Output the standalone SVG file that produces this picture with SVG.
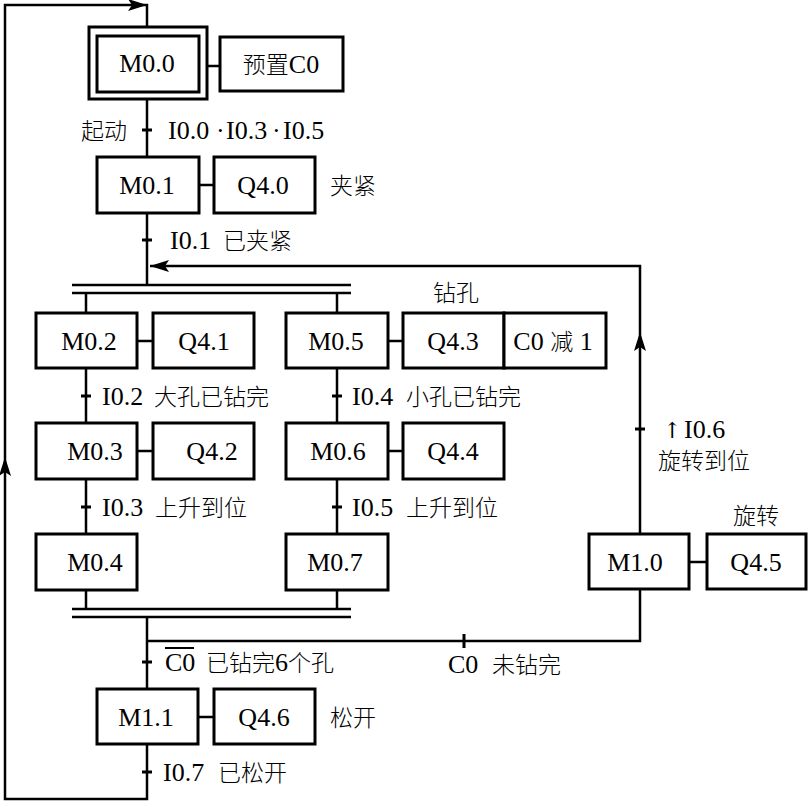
<svg xmlns="http://www.w3.org/2000/svg" width="808" height="802" viewBox="0 0 808 802">
<style>
.box{fill:#fff;stroke:#000;stroke-width:3}
.ln{fill:none;stroke:#000;stroke-width:2.5}
.tk{stroke:#000;stroke-width:3}
.t{font-family:"Liberation Serif","Noto Sans CJK SC",serif;font-size:26px;fill:#000}
.c{font-family:"Noto Sans CJK SC","Liberation Serif",sans-serif;font-size:23px;font-weight:300}
.s{font-family:"DejaVu Serif","DejaVu Sans",serif;font-size:22px;fill:#000}
.m{text-anchor:middle}
</style>
<defs>
<path id="ah" d="M0,0 L-19,-6 L-15,0 L-19,6 Z" fill="#000"/>
</defs>
<rect width="808" height="802" fill="#fff"/>
<g id="connectors">
<path class="ln" d="M147,744 L147,799 L5,799 L5,5 L147,5 L147,27"/>
<path class="ln" d="M147,99 L147,157 M147,213 L147,285"/>
<path class="ln" d="M640,534 L640,266 L150,266"/>
<path class="ln" d="M72,285 L351,285 M72,293 L351,293"/>
<path class="ln" d="M72,609 L351,609 M72,617 L351,617"/>
<path class="ln" d="M86,293 L86,313 M86,368 L86,423 M86,479 L86,534 M86,590 L86,609"/>
<path class="ln" d="M337,293 L337,313 M337,368 L337,423 M337,479 L337,534 M337,590 L337,609"/>
<path class="ln" d="M147,617 L147,689 M147,641 L640,641 L640,589"/>
<path class="ln" d="M207,66 L220,66 M199,185 L214,185 M137,341 L153,341 M388,341 L403,341 M137,451 L153,451 M388,451 L403,451 M689,562 L707,562 M198,717 L214,717"/>
<path class="tk" d="M142,130 L152,130 M142,240 L152,240 M81,396 L91,396 M332,396 L342,396 M81,507 L91,507 M332,507 L342,507 M635,429 L645,429 M142,662 L152,662 M142,772 L152,772 M464,634 L464,648"/>
<use href="#ah" transform="translate(147,5)"/>
<use href="#ah" transform="translate(5,457) rotate(-90)"/>
<use href="#ah" transform="translate(640,332) rotate(-90)"/>
<use href="#ah" transform="translate(150,266) rotate(180)"/>
</g>
<g id="M0.0">
<rect class="box" x="89" y="27" width="118" height="72"/>
<rect class="box" x="97" y="36" width="102" height="56"/>
<text class="t m" x="147" y="72">M0.0</text>
</g>
<g id="presetC0">
<rect class="box" x="220" y="37" width="123" height="54"/>
<text class="t m" x="281" y="73"><tspan class="c">预置</tspan>C0</text>
</g>
<g id="M0.1">
<rect class="box" x="97" y="157" width="102" height="56"/>
<text class="t m" x="147" y="194">M0.1</text>
</g>
<g id="Q4.0">
<rect class="box" x="214" y="157" width="101" height="56"/>
<text class="t m" x="263" y="194">Q4.0</text>
</g>
<g id="M0.2">
<rect class="box" x="36" y="313" width="101" height="55"/>
<text class="t m" x="89" y="350">M0.2</text>
</g>
<g id="Q4.1">
<rect class="box" x="153" y="313" width="101" height="55"/>
<text class="t m" x="204" y="350">Q4.1</text>
</g>
<g id="M0.5">
<rect class="box" x="286" y="313" width="102" height="55"/>
<text class="t m" x="336" y="350">M0.5</text>
</g>
<g id="Q4.3">
<rect class="box" x="403" y="313" width="101" height="55"/>
<text class="t m" x="453" y="350">Q4.3</text>
</g>
<g id="C0dec">
<rect class="box" x="504" y="313" width="102" height="55"/>
<text class="t m" x="553" y="350">C0 <tspan class="c">减</tspan> 1</text>
</g>
<g id="M0.3">
<rect class="box" x="36" y="423" width="101" height="56"/>
<text class="t m" x="95" y="460">M0.3</text>
</g>
<g id="Q4.2">
<rect class="box" x="153" y="423" width="101" height="56"/>
<text class="t m" x="212" y="460">Q4.2</text>
</g>
<g id="M0.6">
<rect class="box" x="286" y="423" width="102" height="56"/>
<text class="t m" x="338" y="460">M0.6</text>
</g>
<g id="Q4.4">
<rect class="box" x="403" y="423" width="101" height="56"/>
<text class="t m" x="453" y="460">Q4.4</text>
</g>
<g id="M0.4">
<rect class="box" x="36" y="534" width="101" height="56"/>
<text class="t m" x="95" y="571">M0.4</text>
</g>
<g id="M0.7">
<rect class="box" x="286" y="534" width="102" height="56"/>
<text class="t m" x="335" y="571">M0.7</text>
</g>
<g id="M1.0">
<rect class="box" x="589" y="534" width="100" height="55"/>
<text class="t m" x="635" y="571">M1.0</text>
</g>
<g id="Q4.5">
<rect class="box" x="707" y="534" width="99" height="55"/>
<text class="t m" x="756" y="571">Q4.5</text>
</g>
<g id="M1.1">
<rect class="box" x="97" y="689" width="101" height="55"/>
<text class="t m" x="146" y="726">M1.1</text>
</g>
<g id="Q4.6">
<rect class="box" x="214" y="689" width="101" height="55"/>
<text class="t m" x="264" y="726">Q4.6</text>
</g>
<g id="labels">
<text class="t c" x="81" y="139">起动</text>
<text class="t" y="139"><tspan x="168">I0.0</tspan><tspan x="216">·</tspan><tspan x="226">I0.3</tspan><tspan x="272">·</tspan><tspan x="283">I0.5</tspan></text>
<text class="t c" x="330" y="194">夹紧</text>
<text class="t" y="249"><tspan x="170">I0.1</tspan><tspan class="c" x="223">已夹紧</tspan></text>
<text class="t c" x="433" y="301">钻孔</text>
<text class="t" y="405"><tspan x="102">I0.2</tspan><tspan class="c" x="154">大孔已钻完</tspan></text>
<text class="t" y="405"><tspan x="352">I0.4</tspan><tspan class="c" x="406">小孔已钻完</tspan></text>
<text class="t" y="516"><tspan x="102">I0.3</tspan><tspan class="c" x="155">上升到位</tspan></text>
<text class="t" y="516"><tspan x="352">I0.5</tspan><tspan class="c" x="406">上升到位</tspan></text>
<text class="t" y="438"><tspan class="s" x="663">↑</tspan><tspan x="684">I0.6</tspan></text>
<text class="t c" x="658" y="469">旋转到位</text>
<text class="t c" x="733" y="524">旋转</text>
<text class="t" y="671"><tspan x="165">C0</tspan><tspan class="c" x="206">已钻完</tspan><tspan>6</tspan><tspan class="c">个孔</tspan></text>
<line x1="165" y1="648" x2="194" y2="648" stroke="#000" stroke-width="2"/>
<text class="t" y="673"><tspan x="448">C0</tspan><tspan class="c" x="492">未钻完</tspan></text>
<text class="t c" x="330" y="726">松开</text>
<text class="t" y="781"><tspan x="163">I0.7</tspan><tspan class="c" x="218">已松开</tspan></text>
</g>
</svg>
